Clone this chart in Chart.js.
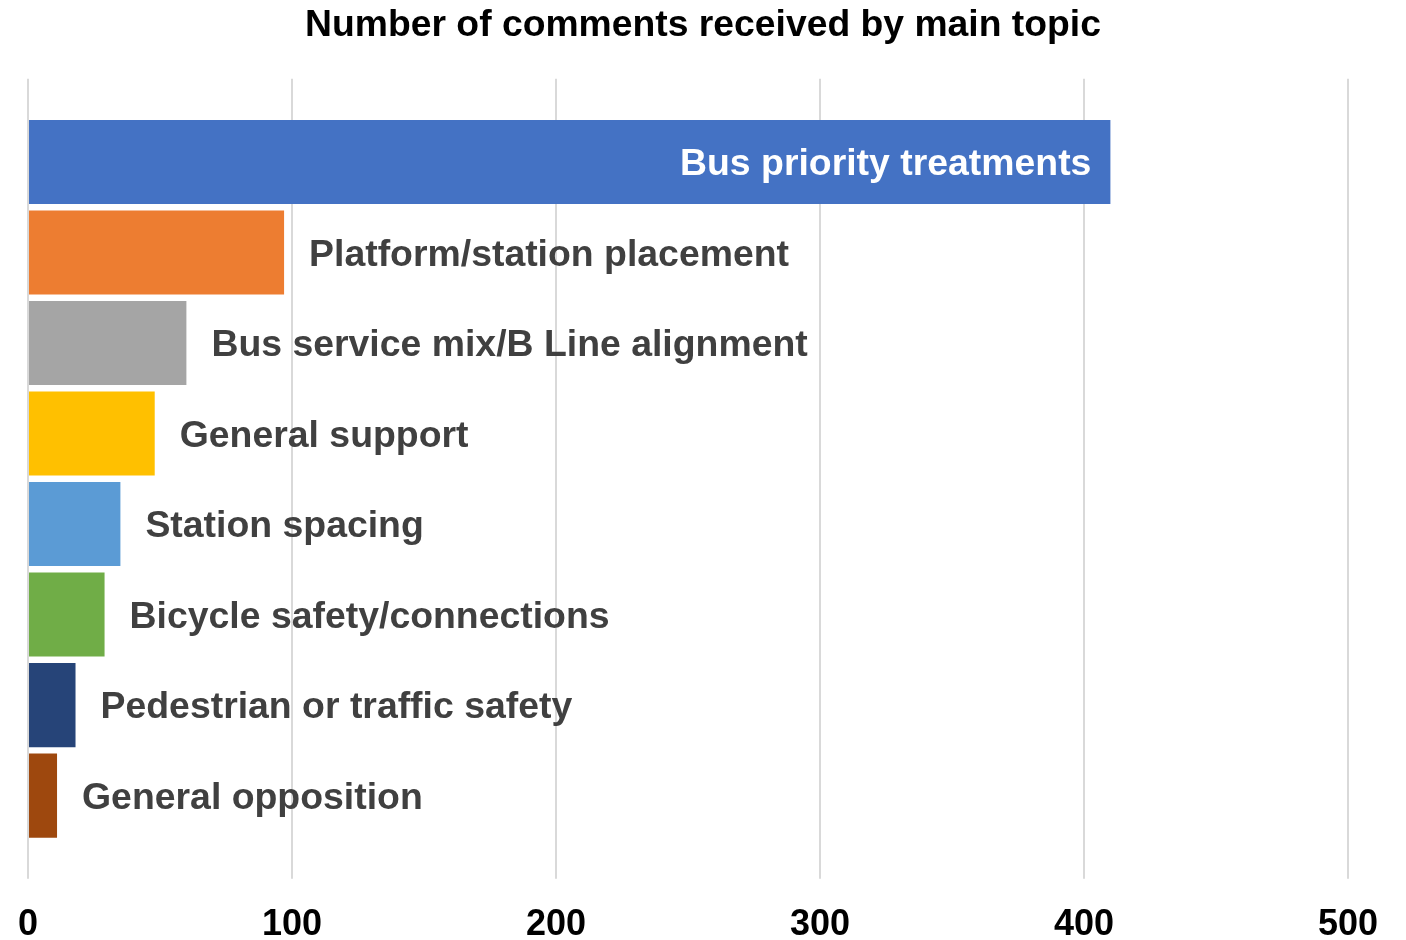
<!DOCTYPE html>
<html>
<head>
<meta charset="utf-8">
<script src="https://cdn.jsdelivr.net/npm/chart.js@4.4.1/dist/chart.umd.min.js"></script>
<style>
  body { margin: 0; background: #fff; }
  #wrap { width: 1406px; height: 940px; }
</style>
</head>
<body>
<div id="wrap"><canvas id="myChart"></canvas></div>
<script>
const topics = [
  "Bus priority treatments",
  "Platform/station placement",
  "Bus service mix/B Line alignment",
  "General support",
  "Station spacing",
  "Bicycle safety/connections",
  "Pedestrian or traffic safety",
  "General opposition"
];
const commentCounts = [410, 97, 60, 48, 35, 29, 18, 11];
const barColors = ["#4472C4", "#ED7D31", "#A5A5A5", "#FFC000", "#5B9BD5", "#70AD47", "#264478", "#9E480E"];
const xTicks = [0, 100, 200, 300, 400, 500];

const FONT = "'Liberation Sans', Arial, sans-serif";

// draws the topic name next to (or inside) each bar
const barLabels = {
  id: "barLabels",
  afterDatasetsDraw(chart) {
    const ctx = chart.ctx;
    const meta = chart.getDatasetMeta(0);
    ctx.save();
    ctx.font = "bold 37.4px " + FONT;
    ctx.textBaseline = "middle";
    meta.data.forEach((bar, i) => {
      if (i === 0) {
        ctx.fillStyle = "#ffffff";
        ctx.textAlign = "right";
        ctx.fillText(topics[i], bar.x - 19, bar.y + 3);
      } else {
        ctx.fillStyle = "#404040";
        ctx.textAlign = "left";
        ctx.fillText(topics[i], bar.x + 25, bar.y + 3);
      }
    });
    ctx.restore();
  }
};

new Chart("myChart", {
  type: "bar",
  data: {
    labels: topics,
    datasets: [{
      data: commentCounts,
      backgroundColor: barColors,
      categoryPercentage: 1.0,
      barPercentage: 0.93
    }]
  },
  options: {
    indexAxis: "y",
    responsive: true,
    maintainAspectRatio: false,
    animation: false,
    layout: { padding: { left: 0, right: 0, top: 0, bottom: -32 } },
    plugins: {
      legend: { display: false },
      tooltip: { enabled: false },
      title: {
        display: true,
        text: "Number of comments received by main topic",
        color: "#000",
        font: { family: FONT, size: 37.3, weight: "bold" },
        padding: { top: 3, bottom: 31 }
      }
    },
    scales: {
      x: {
        min: 0,
        max: 500,
        afterBuildTicks: (scale) => { scale.ticks = xTicks.map(v => ({ value: v })); },
        afterFit: (scale) => { scale.paddingLeft = 0; scale.paddingRight = 0; },
        border: { display: false },
        grid: { color: "#D9D9D9", lineWidth: 2, tickLength: 38 },
        ticks: {
          color: "#000",
          padding: 25,
          font: { family: FONT, size: 36, weight: "bold" }
        }
      },
      xTop: {
        axis: "x",
        position: "top",
        min: 0,
        max: 500,
        afterBuildTicks: (scale) => { scale.ticks = xTicks.map(v => ({ value: v })); },
        border: { display: false },
        grid: { color: "#D9D9D9", lineWidth: 2, tickLength: 38, drawOnChartArea: false },
        ticks: { display: false }
      },
      y: {
        position: "left",
        border: { display: false },
        grid: { display: false },
        ticks: { display: false },
        afterFit: (scale) => { scale.width = 28; }
      },
      yRight: {
        type: "linear",
        position: "right",
        border: { display: false },
        grid: { display: false },
        ticks: { display: false },
        afterFit: (scale) => { scale.width = 58; }
      }
    }
  },
  plugins: [barLabels]
});
</script>
</body>
</html>
